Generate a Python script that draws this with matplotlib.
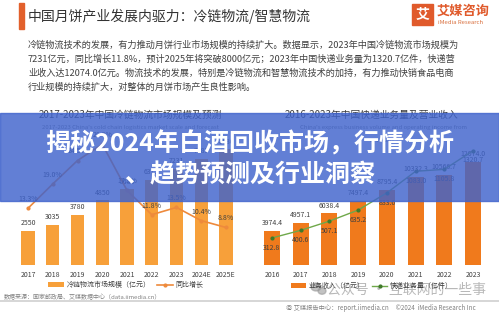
import matplotlib
matplotlib.use("Agg")
import matplotlib.pyplot as plt
from matplotlib.patches import Rectangle, Ellipse

plt.rcParams["font.family"] = ["Noto Sans CJK SC", "DejaVu Sans"]

# left chart: cold chain logistics
cold_years = ["2017", "2018", "2019", "2020", "2021", "2022", "2023", "2024E", "2025E"]
cold_scale = [2550, 3035, 3780, 4850, 5686, 6371, 7231, 7983, 8686]
cold_growth = [13.3, 19.0, 24.5, 28.3, 17.5, 11.8, 13.5, 10.4, 8.8]

# right chart: express delivery
exp_years = ["2016", "2017", "2018", "2019", "2020", "2021", "2022", "2023"]
exp_income = [3974.4, 4957.1, 6038.4, 7497.4, 8795.4, 10332.3, 10566.7, 12074.0]
exp_volume = [312.8, 400.6, 507.1, 635.2, 833.6, 1083.0, 1105.8, 1320.7]

paragraph = [
    "冷链物流技术的发展，有力推动月饼行业市场规模的持续扩大。数据显示，2023年中国冷链物流市场规模为",
    "7231亿元，同比增长11.8%，预计2025年将突破8000亿元；2023年中国快递业务量为1320.7亿件，快递营",
    "业收入达12074.0亿元。物流技术的发展，特别是冷链物流和智慧物流技术的加持，有力推动快销食品电商",
    "行业规模的持续扩大，对整体的月饼市场产生良性影响。",
]

W, H = 499, 314


def fx(x):
    return x / W


def fy(y):
    return 1 - y / H


fig = plt.figure(figsize=(W / 100, H / 100), dpi=100)
fig.patch.set_facecolor("white")

# header
fig.patches.append(Rectangle((fx(19), fy(29)), 5 / W, 26 / H, transform=fig.transFigure,
                             color="#e2602b", zorder=2))
fig.text(fx(28), fy(16), "中国月饼产业发展内驱力：冷链物流/智慧物流", fontsize=10,
         color="#333333", va="center")
fig.patches.append(Rectangle((fx(412), fy(25)), 21 / W, 21 / H, transform=fig.transFigure,
                             color="#e05a2b", zorder=2))
fig.text(fx(422.5), fy(14.5), "艾", fontsize=10, color="white", ha="center", va="center",
         weight="bold", zorder=3)
fig.text(fx(437), fy(11), "艾媒咨询", fontsize=9.5, color="#e05a2b", va="center", weight="bold")
fig.text(fx(438), fy(22), "iMedia Research", fontsize=4.3, color="#d9703f", va="center")

for i, line in enumerate(paragraph):
    fig.text(fx(28), fy(45 + 14 * i), line, fontsize=6.6, color="#404040", va="center")

# chart titles
fig.text(fx(130), fy(115), "2017-2023年中国冷链物流市场规模及预测", fontsize=7,
         color="#3a3a3a", ha="center", va="center")
fig.text(fx(130), fy(128), "2017-2023 China's cold chain logistics market scale and forecast",
         fontsize=4.3, color="#7f7f7f", ha="center", va="center")
fig.text(fx(372), fy(115), "2016-2023年中国快递业务量及营业收入", fontsize=7,
         color="#3a3a3a", ha="center", va="center")
fig.text(fx(384), fy(128), "China's express business volume and operating income from",
         fontsize=4.3, color="#7f7f7f", ha="center", va="center")
fig.text(fx(384), fy(141), "2016-2023", fontsize=4.3, color="#7f7f7f", ha="center", va="center")


def style_axes(ax):
    for s in ax.spines.values():
        s.set_visible(False)
    ax.tick_params(length=0, labelsize=5, labelcolor="#404040", pad=4)
    ax.set_yticks([])


# left chart
ax1 = fig.add_axes([fx(14.4), fy(265), 225.2 / W, 145 / H])
x1 = range(len(cold_years))
ax1.bar(x1, cold_scale, width=0.53, color="#f7a03a", label="冷链物流市场规模（亿元）")
ax1.set_xlim(-0.55, len(cold_years) - 0.45)
ax1.set_ylim(0, 10878)
ax1.set_xticks(list(x1))
ax1.set_xticklabels(cold_years)
style_axes(ax1)
for xi, v in zip(x1, cold_scale):
    ax1.annotate(f"{v}", (xi, v), xytext=(0, 5.5), textcoords="offset points",
                 ha="center", va="center", fontsize=5, color="#404040")
ax1b = ax1.twinx()
ax1b.plot(list(x1), cold_growth, color="#ee8a3c", lw=1.2, marker="o", ms=2,
          label="同比增长")
ax1b.set_ylim(0, 34)
style_axes(ax1b)
for xi, v in zip(x1, cold_growth):
    ax1b.annotate(f"{v}%", (xi, v), xytext=(0, 6.5), textcoords="offset points",
                  ha="center", va="center", fontsize=5, color="#404040")

h1, l1 = ax1.get_legend_handles_labels()
h2, l2 = ax1b.get_legend_handles_labels()
fig.legend(h1 + h2, l1 + l2, loc="center", bbox_to_anchor=(fx(126), fy(285)), ncol=2,
           frameon=False, fontsize=5, handlelength=2.2, handleheight=0.6,
           columnspacing=1.0, handletextpad=0.4, labelcolor="#404040")

# right chart
ax2 = fig.add_axes([fx(256.2), fy(265), 232.6 / W, 145 / H])
x2 = range(len(exp_years))
ax2.bar(x2, exp_income, width=0.56, color="#f07a1c", label="业务收入（亿元）")
ax2.set_xlim(-0.55, len(exp_years) - 0.45)
ax2.set_ylim(0, 16940)
ax2.set_xticks(list(x2))
ax2.set_xticklabels(exp_years)
style_axes(ax2)
for xi, v in zip(x2, exp_income):
    ax2.annotate(f"{v:.1f}", (xi, v), xytext=(0, 5.5), textcoords="offset points",
                 ha="center", va="center", fontsize=5, color="#404040")
ax2b = ax2.twinx()
ax2b.plot(list(x2), exp_volume, color="#6fa84a", lw=1.0, marker="o", ms=2,
          mfc="#3f7a2a", mec="#3f7a2a", label="快递业务量（亿件）")
ax2b.set_ylim(0, 1676)
style_axes(ax2b)
for xi, v in zip(x2, exp_volume):
    ax2b.annotate(f"{v:.1f}", (xi, v), xytext=(0, -7), textcoords="offset points",
                  ha="center", va="center", fontsize=5, color="#404040")

h1, l1 = ax2.get_legend_handles_labels()
h2, l2 = ax2b.get_legend_handles_labels()
fig.legend(h1 + h2, l1 + l2, loc="center", bbox_to_anchor=(fx(372), fy(286)), ncol=2,
           frameon=False, fontsize=5, handlelength=2.2, handleheight=0.6,
           columnspacing=1.0, handletextpad=0.4, labelcolor="#404040")

# footer
fig.text(fx(4), fy(297), "数据来源：国家邮政局、艾媒数据中心（data.iimedia.cn）", fontsize=4.3,
         color="#808080", va="center")
fig.lines.append(plt.Line2D([0, 1], [fy(301), fy(301)], transform=fig.transFigure,
                            color="#cfcfcf", lw=1.2))
fig.text(fx(286), fy(307.5), "Ⓠ 艾媒报告中心：report.iimedia.cn     ©2024  iMedia Research Inc",
         fontsize=4.5, color="#808080", va="center")

# watermark
fig.patches.append(Ellipse((fx(316), fy(287)), 10 / W, 8 / H, transform=fig.transFigure,
                           color="#9a9a9a", alpha=0.6, zorder=5))
fig.patches.append(Ellipse((fx(322), fy(291)), 8 / W, 6.5 / H, transform=fig.transFigure,
                           color="#9a9a9a", alpha=0.6, zorder=5))
fig.text(fx(327), fy(290), "公众号 · 互联网的一些事", fontsize=10, color="#8a8a8a",
         alpha=0.6, va="center", zorder=5)

# blue banner with the headline
fig.patches.append(Rectangle((0, fy(201)), 1, 88 / H, transform=fig.transFigure,
                             color="#3f63cc", alpha=0.82, zorder=10))
fig.text(0.5, fy(144), "揭秘2024年白酒回收市场，行情分析", fontsize=18, color="white",
         weight="bold", ha="center", va="center", zorder=11)
fig.text(0.5, fy(175), "、趋势预测及行业洞察", fontsize=18, color="white",
         weight="bold", ha="center", va="center", zorder=11)

fig.savefig("out.png", dpi=100)
